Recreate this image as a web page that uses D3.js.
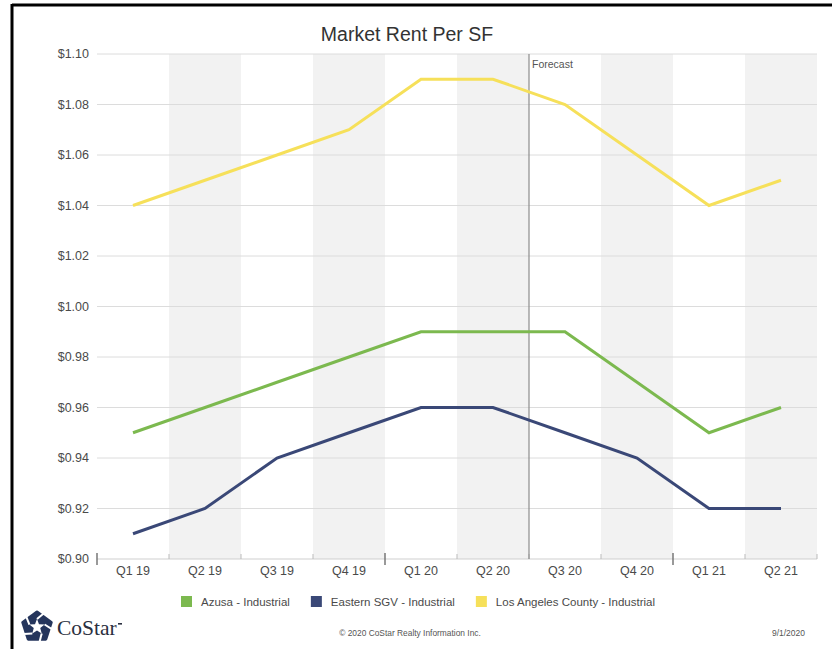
<!DOCTYPE html>
<html>
<head>
<meta charset="utf-8">
<script src="https://cdn.jsdelivr.net/npm/d3@7"></script>
<style>
  body { margin: 0; background: #fff; }
  svg { display: block; font-family: "Liberation Sans", Arial, sans-serif; }
</style>
</head>
<body>
<script>
const width = 832
const height = 649

// Data
const quarters = ["Q1 19", "Q2 19", "Q3 19", "Q4 19", "Q1 20", "Q2 20", "Q3 20", "Q4 20", "Q1 21", "Q2 21"];
const yTicks = [0.90, 0.92, 0.94, 0.96, 0.98, 1.00, 1.02, 1.04, 1.06, 1.08, 1.10];
const azusa = [0.95, 0.96, 0.97, 0.98, 0.99, 0.99, 0.99, 0.97, 0.95, 0.96];
const easternSGV = [0.91, 0.92, 0.94, 0.95, 0.96, 0.96, 0.95, 0.94, 0.92, 0.92];
const laCounty = [1.04, 1.05, 1.06, 1.07, 1.09, 1.09, 1.08, 1.06, 1.04, 1.05];
const seriesNames = ["Azusa - Industrial", "Eastern SGV - Industrial", "Los Angeles County - Industrial"];
const seriesColors = ["#7cb94f", "#3a4877", "#f6e05a"];
const forecastStart = "Q3 20";

const series = [azusa, easternSGV, laCounty].map((values, i) => ({
    name: seriesNames[i],
    color: seriesColors[i],
    values: values
}));

const svg = d3.select("body").append("svg")
    .attr("width", width)
    .attr("height", height);

// frame (top and left edges of the cropped box)
svg.append("line").attr("x1", 12).attr("x2", width).attr("y1", 5).attr("y2", 5)
    .attr("stroke", "#000").attr("stroke-width", 3);
svg.append("line").attr("x1", 12).attr("x2", 12).attr("y1", 4).attr("y2", height)
    .attr("stroke", "#000").attr("stroke-width", 3);

const x = d3.scaleBand()
    .domain(quarters)
    .range([97, 817]);

const y = d3.scaleLinear()
    .domain([0.90, 1.10])
    .range([559, 54]);

// alternating shaded columns
svg.append("g").selectAll("rect")
    .data(quarters.filter((q, i) => i % 2 == 1))
    .enter().append("rect")
    .attr("x", d => x(d))
    .attr("y", y(1.10))
    .attr("width", x.bandwidth())
    .attr("height", y(0.90) - y(1.10))
    .attr("fill", "#f2f2f2");

// horizontal gridlines
svg.append("g").selectAll("line")
    .data(yTicks.slice(1))
    .enter().append("line")
    .attr("x1", 97).attr("x2", 817)
    .attr("y1", d => y(d)).attr("y2", d => y(d))
    .attr("stroke", "#dcdcdc");

// y labels
svg.append("g").selectAll("text")
    .data(yTicks)
    .enter().append("text")
    .attr("x", 89)
    .attr("y", d => y(d))
    .attr("dy", "0.35em")
    .attr("text-anchor", "end")
    .attr("font-size", 12.5)
    .attr("fill", "#4a4a4a")
    .text(d => "$" + d.toFixed(2));

// x axis baseline + ticks
svg.append("line").attr("x1", 97).attr("x2", 817)
    .attr("y1", y(0.90)).attr("y2", y(0.90))
    .attr("stroke", "#cfcfcf");

const boundaries = quarters.map(q => x(q)).concat([x.range()[1]]);
svg.append("g").selectAll("line")
    .data(boundaries)
    .enter().append("line")
    .attr("x1", d => d).attr("x2", d => d)
    .attr("y1", (d, i) => i % 4 == 0 ? y(0.90) - 6 : y(0.90) - 5)
    .attr("y2", (d, i) => i % 4 == 0 ? y(0.90) + 6 : y(0.90))
    .attr("stroke", (d, i) => i % 4 == 0 ? "#777" : "#bbb")
    .attr("stroke-width", (d, i) => i % 4 == 0 ? 1.5 : 1);

svg.append("g").selectAll("text")
    .data(quarters)
    .enter().append("text")
    .attr("x", d => x(d) + x.bandwidth() / 2)
    .attr("y", 571)
    .attr("dy", "0.35em")
    .attr("text-anchor", "middle")
    .attr("font-size", 12.5)
    .attr("fill", "#4a4a4a")
    .text(d => d);

// forecast marker
const fx = x(forecastStart);
svg.append("line").attr("x1", fx).attr("x2", fx)
    .attr("y1", y(1.10)).attr("y2", y(0.90))
    .attr("stroke", "#8c8c8c").attr("stroke-width", 1.2);
svg.append("text")
    .attr("x", fx + 3).attr("y", 64)
    .attr("dy", "0.35em")
    .attr("font-size", 10.5)
    .attr("fill", "#555")
    .text("Forecast");

// lines
const line = d3.line()
    .x((d, i) => x(quarters[i]) + x.bandwidth() / 2)
    .y(d => y(d));

svg.append("g").selectAll("path")
    .data(series)
    .enter().append("path")
    .attr("d", d => line(d.values))
    .attr("fill", "none")
    .attr("stroke", d => d.color)
    .attr("stroke-width", 3)
    .attr("stroke-linejoin", "miter");

// title
svg.append("text")
    .attr("x", 407).attr("y", 34)
    .attr("dy", "0.35em")
    .attr("text-anchor", "middle")
    .attr("font-size", 19.5)
    .attr("fill", "#333")
    .text("Market Rent Per SF");

// legend
const legend = svg.append("g");
let lx = 181;
series.forEach(s => {
    legend.append("rect")
        .attr("x", lx).attr("y", 596)
        .attr("width", 11).attr("height", 11)
        .attr("fill", s.color);
    const t = legend.append("text")
        .attr("x", lx + 20).attr("y", 602)
        .attr("dy", "0.35em")
        .attr("font-size", 11.5)
        .attr("fill", "#4a4a4a")
        .text(s.name);
    lx += 20 + t.node().getComputedTextLength() + 21;
});

// footer
svg.append("text")
    .attr("x", 410).attr("y", 633)
    .attr("dy", "0.35em")
    .attr("text-anchor", "middle")
    .attr("font-size", 8.4)
    .attr("fill", "#555")
    .text("\u00a9 2020 CoStar Realty Information Inc.");
svg.append("text")
    .attr("x", 805).attr("y", 633)
    .attr("dy", "0.35em")
    .attr("text-anchor", "end")
    .attr("font-size", 8.5)
    .attr("fill", "#555")
    .text("9/1/2020");

// CoStar logo
const logo = svg.append("g").attr("transform", "translate(37,627)");
const navy = "#25355c";
const outer = d3.range(5).map(i => {
    const a = -Math.PI / 2 + i * 2 * Math.PI / 5;
    return [15 * Math.cos(a), 15 * Math.sin(a)];
});
logo.append("path")
    .attr("d", "M" + outer.join("L") + "Z")
    .attr("fill", navy)
    .attr("stroke", navy)
    .attr("stroke-width", 3)
    .attr("stroke-linejoin", "round");
const star = d3.range(10).map(i => {
    const a = -Math.PI / 2 + i * Math.PI / 5;
    const r = i % 2 == 0 ? 8 : 3.4;
    return [r * Math.cos(a), r * Math.sin(a)];
});
logo.append("path")
    .attr("d", "M" + star.join("L") + "Z")
    .attr("fill", "#fff");
// gaps between blocks
d3.range(5).forEach(i => {
    const a = -Math.PI / 2 + i * 2 * Math.PI / 5;
    const b = a + 0.55;
    logo.append("line")
        .attr("x1", 8 * Math.cos(a)).attr("y1", 8 * Math.sin(a))
        .attr("x2", 19 * Math.cos(b)).attr("y2", 19 * Math.sin(b))
        .attr("stroke", "#fff").attr("stroke-width", 2);
});
svg.append("text")
    .attr("x", 57).attr("y", 635)
    .attr("font-family", "'Liberation Serif', 'Times New Roman', serif")
    .attr("font-size", 21.5)
    .attr("fill", "#2a2f40")
    .text("CoStar");
svg.append("rect")
    .attr("x", 118).attr("y", 623)
    .attr("width", 4).attr("height", 1.6)
    .attr("fill", "#2a2f40");
</script>
</body>
</html>
